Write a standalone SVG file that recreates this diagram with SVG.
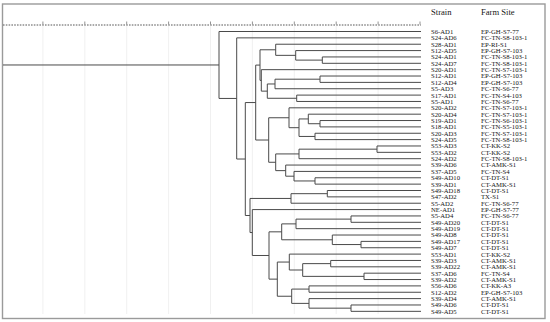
<svg xmlns="http://www.w3.org/2000/svg" width="550" height="322" viewBox="0 0 550 322">
<style>
.frame{fill:#fff;stroke:#9a9a9a;stroke-width:1.4}
.grid{stroke:#ececec;stroke-width:0.8}
.axis{stroke:#444;stroke-width:0.9;stroke-dasharray:1.6,1.2;fill:none}
.tick{stroke:#777;stroke-width:0.8}
.tree path{fill:none;stroke:#4a4a4a;stroke-width:1}
text{font-family:"Liberation Serif","Times New Roman",serif;fill:#151515}
.h{font-size:8.6px}
.t{font-size:6.7px}
</style>
<rect class="frame" x="2.5" y="4" width="542.5" height="314.5"/>
<g id="grid">
<path class="grid" d="M42.9,26V314M84.8,26V314M126.7,26V314M168.6,26V314M210.5,26V314M252.4,26V314M294.3,26V314M336.2,26V314M378.1,26V314"/>
<path class="axis" d="M3,25H421"/>
<path class="tick" d="M42.9,21.5V24.5M84.8,21.5V24.5M126.7,21.5V24.5M168.6,21.5V24.5M210.5,21.5V24.5M252.4,21.5V24.5M294.3,21.5V24.5M336.2,21.5V24.5M378.1,21.5V24.5M420,21.5V24.5"/>
</g>
<g id="headers">
<text class="h" x="431" y="14.5">Strain</text>
<text class="h" x="481" y="14.5">Farm Site</text>
</g>
<g id="connectors" class="tree">
<path d="M3,64.97H219M219,31.5V98.44M219,31.5H421M219,98.44H236.7"/>
<path d="M236.7,37.86V159.02M236.7,37.86H421M236.7,159.02H245.3"/>
<path d="M245.3,102.56V215.49M245.3,102.56H255.7M245.3,215.49H250"/>
<path d="M255.7,65.09V140.02M255.7,65.09H260M255.7,140.02H268.7"/>
<path d="M260,49.79V80.39M260,49.79H275.7M260,80.39H261.3"/>
<path d="M275.7,44.22V55.35M275.7,44.22H421M275.7,55.35H295.7"/>
<path d="M295.7,50.58V60.12M295.7,50.58H421M295.7,60.12H322.3"/>
<path d="M322.3,56.94V63.3M322.3,56.94H421M322.3,63.3H421"/>
<path d="M261.3,69.66V91.13M261.3,69.66H421M261.3,91.13H267.3"/>
<path d="M267.3,83.97V98.28M267.3,83.97H275M267.3,98.28H296.7"/>
<path d="M275,79.2V88.74M275,79.2H320M275,88.74H421"/>
<path d="M320,76.02V82.38M320,76.02H421M320,82.38H421"/>
<path d="M296.7,95.1V101.46M296.7,95.1H421M296.7,101.46H421"/>
<path d="M268.7,117.76V162.28M268.7,117.76H289M268.7,162.28H275.7"/>
<path d="M289,107.82V127.7M289,107.82H421M289,127.7H299"/>
<path d="M299,118.95V136.44M299,118.95H308.3M299,136.44H315"/>
<path d="M308.3,114.18V123.72M308.3,114.18H421M308.3,123.72H320"/>
<path d="M320,120.54V126.9M320,120.54H421M320,126.9H421"/>
<path d="M315,133.26V139.62M315,133.26H421M315,139.62H421"/>
<path d="M275.7,153.93V170.63M275.7,153.93H299M275.7,170.63H285.7"/>
<path d="M299,149.16V158.7M299,149.16H377M299,158.7H421"/>
<path d="M377,145.98V152.34M377,145.98H421M377,152.34H421"/>
<path d="M285.7,165.06V176.19M285.7,165.06H421M285.7,176.19H294"/>
<path d="M294,171.42V180.96M294,171.42H421M294,180.96H315"/>
<path d="M315,177.78V184.14M315,177.78H421M315,184.14H421"/>
<path d="M250,198.45V232.54M250,198.45H291M250,232.54H252.3"/>
<path d="M291,193.68V203.22M291,193.68H327.3M291,203.22H421"/>
<path d="M327.3,190.5V196.86M327.3,190.5H421M327.3,196.86H421"/>
<path d="M252.3,209.58V255.49M252.3,209.58H421M252.3,255.49H269"/>
<path d="M269,231.84V279.14M269,231.84H281.7M269,279.14H277.3"/>
<path d="M281.7,223.89V239.79M281.7,223.89H296M281.7,239.79H332.3"/>
<path d="M296,219.12V228.66M296,219.12H351M296,228.66H421"/>
<path d="M351,215.94V222.3M351,215.94H421M351,222.3H421"/>
<path d="M332.3,235.02V244.56M332.3,235.02H421M332.3,244.56H361"/>
<path d="M361,241.38V247.74M361,241.38H421M361,247.74H421"/>
<path d="M277.3,262.05V296.24M277.3,262.05H289.3M277.3,296.24H291.7"/>
<path d="M289.3,254.1V270M289.3,254.1H421M289.3,270H302.7"/>
<path d="M302.7,263.64V276.36M302.7,263.64H330.7M302.7,276.36H364"/>
<path d="M330.7,260.46V266.82M330.7,260.46H421M330.7,266.82H421"/>
<path d="M364,273.18V279.54M364,273.18H421M364,279.54H421"/>
<path d="M291.7,289.08V303.39M291.7,289.08H309M291.7,303.39H309"/>
<path d="M309,285.9V292.26M309,285.9H421M309,292.26H421"/>
<path d="M309,298.62V308.16M309,298.62H421M309,308.16H351"/>
<path d="M351,304.98V311.34M351,304.98H421M351,311.34H421"/>
</g>
<g id="leaves" class="t">
<g id="n1"><text class="t" x="431" y="33.9">S6-AD1</text><text class="t" x="481" y="33.9">EP-GH-S7-77</text></g>
<g id="n2"><text class="t" x="431" y="40.26">S24-AD6</text><text class="t" x="481" y="40.26">FC-TN-S8-103-1</text></g>
<g id="n3"><text class="t" x="431" y="46.62">S28-AD1</text><text class="t" x="481" y="46.62">EP-RI-S1</text></g>
<g id="n4"><text class="t" x="431" y="52.98">S12-AD5</text><text class="t" x="481" y="52.98">EP-GH-S7-103</text></g>
<g id="n5"><text class="t" x="431" y="59.34">S24-AD1</text><text class="t" x="481" y="59.34">FC-TN-S8-103-1</text></g>
<g id="n6"><text class="t" x="431" y="65.7">S24-AD7</text><text class="t" x="481" y="65.7">FC-TN-S8-103-1</text></g>
<g id="n7"><text class="t" x="431" y="72.06">S20-AD1</text><text class="t" x="481" y="72.06">FC-TN-S7-103-1</text></g>
<g id="n8"><text class="t" x="431" y="78.42">S12-AD1</text><text class="t" x="481" y="78.42">EP-GH-S7-103</text></g>
<g id="n9"><text class="t" x="431" y="84.78">S12-AD4</text><text class="t" x="481" y="84.78">EP-GH-S7-103</text></g>
<g id="n10"><text class="t" x="431" y="91.14">S5-AD3</text><text class="t" x="481" y="91.14">FC-TN-S6-77</text></g>
<g id="n11"><text class="t" x="431" y="97.5">S17-AD1</text><text class="t" x="481" y="97.5">FC-TN-S4-103</text></g>
<g id="n12"><text class="t" x="431" y="103.86">S5-AD1</text><text class="t" x="481" y="103.86">FC-TN-S6-77</text></g>
<g id="n13"><text class="t" x="431" y="110.22">S20-AD2</text><text class="t" x="481" y="110.22">FC-TN-S7-103-1</text></g>
<g id="n14"><text class="t" x="431" y="116.58">S20-AD4</text><text class="t" x="481" y="116.58">FC-TN-S7-103-1</text></g>
<g id="n15"><text class="t" x="431" y="122.94">S19-AD1</text><text class="t" x="481" y="122.94">FC-TN-S6-103-1</text></g>
<g id="n16"><text class="t" x="431" y="129.3">S18-AD1</text><text class="t" x="481" y="129.3">FC-TN-S5-103-1</text></g>
<g id="n17"><text class="t" x="431" y="135.66">S20-AD3</text><text class="t" x="481" y="135.66">FC-TN-S7-103-1</text></g>
<g id="n18"><text class="t" x="431" y="142.02">S24-AD5</text><text class="t" x="481" y="142.02">FC-TN-S8-103-1</text></g>
<g id="n19"><text class="t" x="431" y="148.38">S53-AD3</text><text class="t" x="481" y="148.38">CT-KK-S2</text></g>
<g id="n20"><text class="t" x="431" y="154.74">S53-AD2</text><text class="t" x="481" y="154.74">CT-KK-S2</text></g>
<g id="n21"><text class="t" x="431" y="161.1">S24-AD2</text><text class="t" x="481" y="161.1">FC-TN-S8-103-1</text></g>
<g id="n22"><text class="t" x="431" y="167.46">S39-AD6</text><text class="t" x="481" y="167.46">CT-AMK-S1</text></g>
<g id="n23"><text class="t" x="431" y="173.82">S37-AD5</text><text class="t" x="481" y="173.82">FC-TN-S4</text></g>
<g id="n24"><text class="t" x="431" y="180.18">S49-AD10</text><text class="t" x="481" y="180.18">CT-DT-S1</text></g>
<g id="n25"><text class="t" x="431" y="186.54">S39-AD1</text><text class="t" x="481" y="186.54">CT-AMK-S1</text></g>
<g id="n26"><text class="t" x="431" y="192.9">S49-AD18</text><text class="t" x="481" y="192.9">CT-DT-S1</text></g>
<g id="n27"><text class="t" x="431" y="199.26">S47-AD2</text><text class="t" x="481" y="199.26">TX-S1</text></g>
<g id="n28"><text class="t" x="431" y="205.62">S5-AD2</text><text class="t" x="481" y="205.62">FC-TN-S6-77</text></g>
<g id="n29"><text class="t" x="431" y="211.98">NE-AD1</text><text class="t" x="481" y="211.98">EP-GH-S7-77</text></g>
<g id="n30"><text class="t" x="431" y="218.34">S5-AD4</text><text class="t" x="481" y="218.34">FC-TN-S6-77</text></g>
<g id="n31"><text class="t" x="431" y="224.7">S49-AD20</text><text class="t" x="481" y="224.7">CT-DT-S1</text></g>
<g id="n32"><text class="t" x="431" y="231.06">S49-AD19</text><text class="t" x="481" y="231.06">CT-DT-S1</text></g>
<g id="n33"><text class="t" x="431" y="237.42">S49-AD8</text><text class="t" x="481" y="237.42">CT-DT-S1</text></g>
<g id="n34"><text class="t" x="431" y="243.78">S49-AD17</text><text class="t" x="481" y="243.78">CT-DT-S1</text></g>
<g id="n35"><text class="t" x="431" y="250.14">S49-AD7</text><text class="t" x="481" y="250.14">CT-DT-S1</text></g>
<g id="n36"><text class="t" x="431" y="256.5">S53-AD1</text><text class="t" x="481" y="256.5">CT-KK-S2</text></g>
<g id="n37"><text class="t" x="431" y="262.86">S39-AD3</text><text class="t" x="481" y="262.86">CT-AMK-S1</text></g>
<g id="n38"><text class="t" x="431" y="269.22">S39-AD22</text><text class="t" x="481" y="269.22">CT-AMK-S1</text></g>
<g id="n39"><text class="t" x="431" y="275.58">S37-AD6</text><text class="t" x="481" y="275.58">FC-TN-S4</text></g>
<g id="n40"><text class="t" x="431" y="281.94">S39-AD2</text><text class="t" x="481" y="281.94">CT-AMK-S1</text></g>
<g id="n41"><text class="t" x="431" y="288.3">S56-AD6</text><text class="t" x="481" y="288.3">CT-KK-A3</text></g>
<g id="n42"><text class="t" x="431" y="294.66">S12-AD2</text><text class="t" x="481" y="294.66">EP-GH-S7-103</text></g>
<g id="n43"><text class="t" x="431" y="301.02">S39-AD4</text><text class="t" x="481" y="301.02">CT-AMK-S1</text></g>
<g id="n44"><text class="t" x="431" y="307.38">S49-AD6</text><text class="t" x="481" y="307.38">CT-DT-S1</text></g>
<g id="n45"><text class="t" x="431" y="313.74">S49-AD5</text><text class="t" x="481" y="313.74">CT-DT-S1</text></g>
</g>
</svg>
